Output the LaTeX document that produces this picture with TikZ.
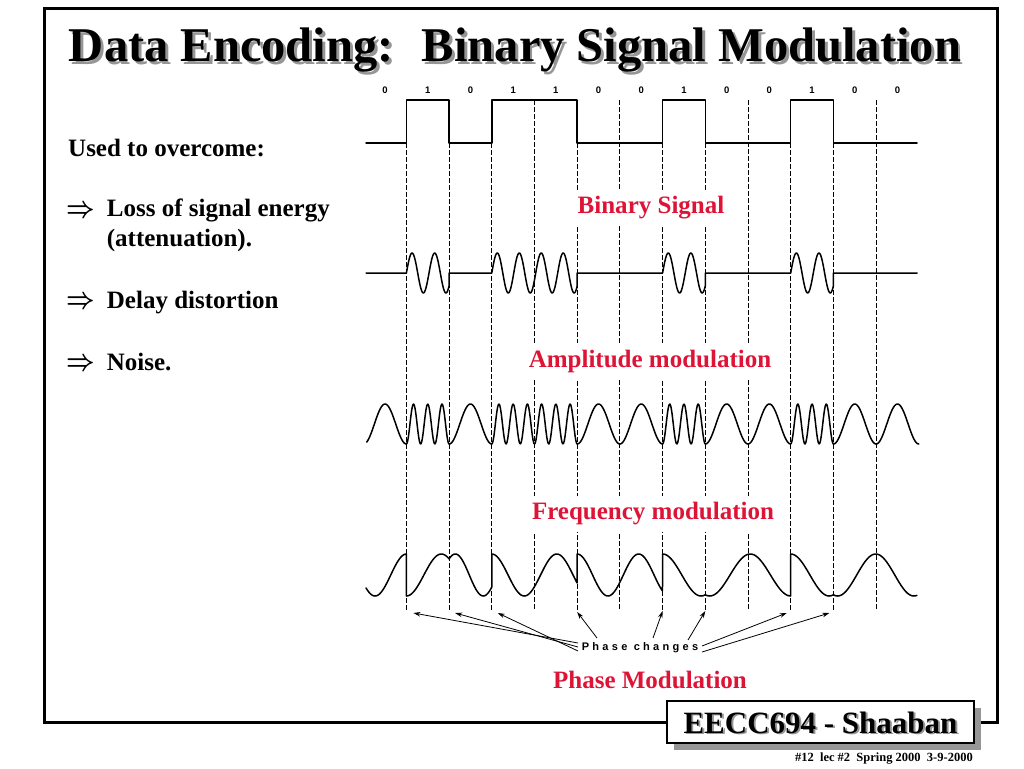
\documentclass[tikz,border=0pt]{standalone}
\usepackage{fontspec}
\usepackage{graphicx}
\setmainfont{Liberation Serif}
\newfontfamily\bitfont{Liberation Sans}
\newfontfamily\phfont[LetterSpace=30]{Liberation Sans}
\usetikzlibrary{arrows.meta}
\definecolor{slidered}{RGB}{222,20,55}
\definecolor{shadowgray}{RGB}{150,150,150}
\newcommand\xo{363.7}
\newcommand\T{42.7}
\newcommand\bx[1]{(\xo+#1*\T)}
\newcommand\shadowed[1]{\makebox[0pt][l]{\hspace{0.06em}\raisebox{-0.06em}{\color{shadowgray}#1}}#1}
\newcommand\bigimplies{\scalebox{1.0}[1.2]{\boldmath$\Rightarrow$}}
\tikzset{
  wave/.style={line width=1.5pt, line join=round, line cap=round, samples=60, domain=0:1},
  vline/.style={line width=0.9pt, dash pattern=on 5pt off 2pt},
  redlbl/.style={fill=white, text=slidered, inner sep=7pt, font=\bfseries\fontsize{25}{30}\selectfont},
  body/.style={inner sep=0pt, anchor=base west, font=\bfseries\fontsize{25}{30}\selectfont},
  arrowsym/.style={inner sep=0pt, anchor=base west, font=\fontsize{24.88}{30}\selectfont},
  bitlbl/.style={inner sep=0pt, font=\bitfont\bfseries\fontsize{9.5}{11}\selectfont},
  titletext/.style={inner sep=0pt, anchor=base, font=\bfseries\fontsize{48.5}{56}\selectfont},
  foottext/.style={inner sep=0pt, anchor=base, font=\bfseries\fontsize{31}{36}\selectfont},
  pcarrow/.style={line width=0.8pt, -{Stealth[length=7pt,width=4.5pt]}},
}
\begin{document}
\begin{tikzpicture}[x=1pt,y=-1pt]
\useasboundingbox (0,0) rectangle (1024,768);
\fill[white] (0,0) rectangle (1024,768);
% frame
\draw[line width=3pt] (44,9) rectangle (997,722);
% title
\node[titletext] (title) at (515,62) {\shadowed{Data Encoding:~ Binary Signal Modulation}};
% left text
\node[body] (uto) at (68,156) {Used to overcome:};
\node[arrowsym] (a1) at (66,217) {\bigimplies};
\node[body] (l1) at (106.7,216.7) {Loss of signal energy};
\node[body] (l1b) at (106.7,246.7) {(attenuation).};
\node[arrowsym] (a2) at (66,308.3) {\bigimplies};
\node[body] (l2) at (106.7,308) {Delay distortion};
\node[arrowsym] (a3) at (66,370.3) {\bigimplies};
\node[body] (l3) at (106.7,370) {Noise.};
% bit labels
\foreach \i/\b in {0/0,1/1,2/0,3/1,4/1,5/0,6/0,7/1,8/0,9/0,10/1,11/0,12/0}
  \node[bitlbl] (bit\i) at ({\xo+(\i+0.5)*\T},90) {\b};
% vertical dashed lines
\foreach \k/\ys in {1/143,2/143,3/143,4/100,5/143,6/100,7/143,8/143,9/100,10/143,11/143,12/100}
  \draw[vline] ({\bx{\k}},\ys) -- ({\bx{\k}},610);
% binary signal
\draw[wave] (366,143) -- ({\bx{1}},143) -- ({\bx{1}},100) -- ({\bx{2}},100) -- ({\bx{2}},143)
  -- ({\bx{3}},143) -- ({\bx{3}},100) -- ({\bx{5}},100) -- ({\bx{5}},143)
  -- ({\bx{7}},143) -- ({\bx{7}},100) -- ({\bx{8}},100) -- ({\bx{8}},143)
  -- ({\bx{10}},143) -- ({\bx{10}},100) -- ({\bx{11}},100) -- ({\bx{11}},143) -- (917,143);
% amplitude modulation
\draw[wave] (366,273) -- ({\bx{1}},273)
  -- plot ({\xo+(1+\x)*\T},{273-20*sin(\x*680)}) -- ({\bx{2}},273)
  -- ({\bx{3}},273)
  -- plot[samples=140] ({\xo+(3+2*\x)*\T},{273-20*sin(\x*1400)}) -- ({\bx{5}},273)
  -- ({\bx{7}},273)
  -- plot ({\xo+(7+\x)*\T},{273-20*sin(\x*680)}) -- ({\bx{8}},273)
  -- ({\bx{10}},273)
  -- plot ({\xo+(10+\x)*\T},{273-20*sin(\x*680)}) -- ({\bx{11}},273)
  -- (917,273);
% frequency modulation
\draw[wave] plot[domain=0.07:1] ({\xo+\x*\T},{424-20*cos(180+360*\x)});
\foreach \i/\n in {1/3,2/1,3/3,4/3,5/1,6/1,7/3,8/1,9/1,10/3,11/1,12/1}
  \draw[wave] plot ({\xo+(\i+\x)*\T},{424-20*cos(180+360*\n*\x)});
% phase modulation
\draw[wave] plot ({366+\x*(\bx{1}-366)},{575-21*cos(128+\x*232)})
  -- plot ({\bx{1}+\x*\T},{575-21*cos(180+\x*220)})
  -- plot ({\bx{2}+\x*\T},{575-21*cos(320+\x*275)})
  -- plot[samples=100] ({\bx{3}+\x*2*\T},{575-21*cos(\x*473)})
  -- plot[samples=100] ({\bx{5}+\x*2*\T},{575-21*cos(\x*500)})
  -- plot ({\bx{7}+\x*\T},{575-21*cos(\x*200)})
  -- plot[samples=100] ({\bx{8}+\x*2*\T},{575-21*cos(160+\x*380)})
  -- plot ({\bx{10}+\x*\T},{575-21*cos(\x*200)})
  -- plot[samples=100] ({\bx{11}+\x*(917-\bx{11})},{575-21*cos(160+\x*395)});
% red labels
\node[redlbl] (bs) at (651,208) {Binary Signal};
\node[redlbl] (am) at (650,361) {Amplitude modulation};
\node[redlbl] (fm) at (653,514) {Frequency modulation};
\node[redlbl, fill=none] (pm) at (650,680) {Phase Modulation};
% phase changes
\node[inner sep=1pt, font=\phfont\bfseries\fontsize{11}{13}\selectfont] (pc) at (640,648) {Phase changes};
\coordinate (h1) at ({\bx{1}+7},613);
\coordinate (h2) at ({\bx{2}+6},613);
\coordinate (h3) at ({\bx{3}+6},613);
\coordinate (h5) at ({\bx{5}},612);
\coordinate (h7) at ({\bx{7}},611);
\coordinate (h8) at ({\bx{8}},611);
\coordinate (h10) at ({\bx{10}-4},613);
\coordinate (h11) at ({\bx{11}-4},613);
\coordinate (t1) at (578,643);
\coordinate (t2) at (578,647);
\coordinate (t3) at (578,651);
\coordinate (t5) at (597,638);
\coordinate (t7) at (653,638);
\coordinate (t8) at (688,640);
\coordinate (t10) at (702,646);
\coordinate (t11) at (702,652);
\foreach \k in {1,2,3,5,7,8,10,11}
  \draw[pcarrow] (t\k) -- (h\k);
% footer
\fill[shadowgray] (674,708) rectangle (981,750);
\node[draw=black, line width=1.5pt, fill=white, minimum width=307pt, minimum height=42pt, inner sep=0pt, anchor=north west] (footbox) at (666,700) {};
\node[foottext] (foot) at (820.5,733) {\shadowed{EECC694 - Shaaban}};
\node[inner sep=0pt, anchor=base east, font=\bfseries\fontsize{12.5}{14}\selectfont] (note) at (973,761) {\#12~ lec \#2~ Spring 2000~ 3-9-2000};
\end{tikzpicture}
\end{document}
